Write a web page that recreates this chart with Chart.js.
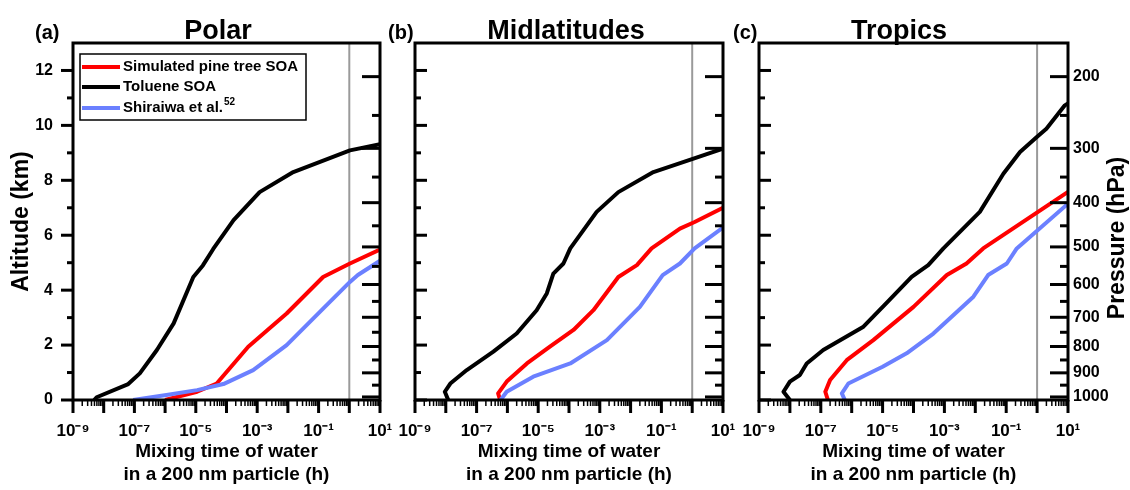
<!DOCTYPE html>
<html>
<head>
<meta charset="utf-8">
<script src="https://cdn.jsdelivr.net/npm/chart.js@4.4.0/dist/chart.umd.min.js"></script>
<style>
  body { margin: 0; background: #fff; }
  #wrap { position: relative; width: 1130px; height: 490px; overflow: hidden; }
  #wrap canvas { position: absolute; top: 0; }
</style>
</head>
<body>
<div id="wrap">
  <canvas id="polar" width="420" height="490" style="left:0px"></canvas>
  <canvas id="mid" width="388" height="490" style="left:375px"></canvas>
  <canvas id="trop" width="411" height="490" style="left:719px"></canvas>
</div>
<script>
// [mixing time (h), altitude (km)]
const polarPine = [[1.0e-6, 0], [1.1e-5, 0.3], [4.8e-5, 0.6], [5.1e-4, 1.94], [9.1e-3, 3.15], [0.14, 4.48], [1.05, 4.97], [10, 5.48]];
const polarToluene = [[4.9e-9, 0], [5.9e-9, 0.1], [6.3e-8, 0.58], [1.5e-7, 0.97], [5.4e-7, 1.82], [1.9e-6, 2.79], [8.3e-6, 4.48], [1.7e-5, 4.9], [3.7e-5, 5.5], [1.7e-4, 6.55], [1.2e-3, 7.57], [1.5e-2, 8.3], [1.05, 9.09], [10, 9.31]];
const polarShiraiwa = [[9.1e-8, 0], [1.1e-6, 0.18], [1.1e-5, 0.36], [7.9e-5, 0.58], [7.4e-4, 1.09], [9.1e-3, 2.0], [0.11, 3.21], [1.05, 4.3], [1.9, 4.55], [10, 5.07]];

const midPine = [[5.8e-7, 0], [5.0e-7, 0.24], [9.5e-7, 0.67], [4.3e-6, 1.33], [2.4e-5, 1.94], [1.4e-4, 2.55], [6.2e-4, 3.27], [4.0e-3, 4.48], [1.6e-2, 4.91], [4.8e-2, 5.52], [0.4, 6.24], [1.2, 6.48], [10, 7.0]];
const midToluene = [[1.2e-8, 0], [9.3e-9, 0.3], [1.4e-8, 0.6], [4.8e-8, 1.09], [3.5e-7, 1.76], [2.0e-6, 2.42], [8.9e-6, 3.27], [1.9e-5, 3.88], [3.1e-5, 4.6], [6.6e-5, 4.97], [1.1e-4, 5.52], [7.9e-4, 6.85], [4.0e-3, 7.57], [5.5e-2, 8.3], [1.1, 8.79], [10, 9.15]];
const midShiraiwa = [[6.0e-7, 0], [9.5e-7, 0.3], [6.9e-6, 0.85], [1.1e-4, 1.33], [1.7e-3, 2.18], [2.0e-2, 3.39], [0.11, 4.55], [0.4, 4.97], [1.2, 5.52], [10, 6.28]];

const tropPine = [[1.7e-7, 0], [1.4e-7, 0.3], [2.0e-7, 0.73], [6.9e-7, 1.45], [5.0e-6, 2.18], [1.0e-4, 3.39], [1.2e-3, 4.55], [5.2e-3, 4.97], [1.8e-2, 5.52], [10, 7.58]];
const tropToluene = [[1.0e-8, 0], [6.2e-9, 0.3], [1.0e-8, 0.67], [2.1e-8, 0.91], [3.5e-8, 1.33], [1.2e-7, 1.82], [2.4e-6, 2.67], [1.3e-5, 3.52], [8.7e-5, 4.48], [3.0e-4, 4.91], [9.3e-4, 5.52], [1.4e-2, 6.85], [8.1e-2, 8.24], [0.28, 9.03], [0.98, 9.58], [2.0, 9.88], [7.9, 10.73], [10, 10.8]];
const tropShiraiwa = [[6.0e-7, 0], [4.8e-7, 0.24], [7.8e-7, 0.6], [1.0e-5, 1.21], [6.0e-5, 1.7], [4.4e-4, 2.42], [8.7e-3, 3.76], [2.6e-2, 4.55], [0.105, 4.97], [0.22, 5.52], [10, 7.15]];

// 1 h marker
const oneHour = [[1, 0], [1, 13]];

const seriesNames = ['Simulated pine tree SOA', 'Toluene SOA', 'Shiraiwa et al.'];
const seriesRefs = ['', '', '52'];
const seriesColors = ['#ff0000', '#000000', '#6b80ff'];

const timeTicks = [1e-9, 1e-7, 1e-5, 1e-3, 1e-1, 1e1];
const timeLabels = ['10\u207B\u2079', '10\u207B\u2077', '10\u207B\u2075', '10\u207B\u00B3', '10\u207B\u00B9', '10\u00B9'];
const altTicks = [0, 2, 4, 6, 8, 10, 12];
const pressureTicks = [200, 300, 400, 500, 600, 700, 800, 900, 1000];

const xTitle = ['Mixing time of water', 'in a 200 nm particle (h)'];
const yTitle = 'Altitude (km)';
const y2Title = 'Pressure (hPa)';

const FONT = 'Liberation Sans, Arial, sans-serif';

// standard atmosphere: hPa -> km
function altitudeOf(hpa) {
  return 44.3308 * (1 - Math.pow(hpa / 1013.25, 0.190263));
}

const axesFrame = {
  id: 'axesFrame',
  afterDatasetsDraw(chart, args, o) {
    const { ctx, chartArea: a } = chart;
    const { x, y, y2 } = chart.scales;
    const seg = (x1, y1, x2, y3) => { ctx.beginPath(); ctx.moveTo(x1, y1); ctx.lineTo(x2, y3); ctx.stroke(); };
    ctx.save();
    ctx.strokeStyle = '#000';
    ctx.fillStyle = '#000';

    // log ticks below the axis
    for (let e = -9; e <= 1; e++) {
      for (let m = 1; m <= 9; m++) {
        const v = m * Math.pow(10, e);
        if (v > 10.0001) break;
        const px = x.getPixelForValue(v);
        ctx.lineWidth = m === 1 ? 3 : 1.5;
        seg(px, a.bottom, px, a.bottom + (m === 1 ? 13 : 6));
      }
    }

    // altitude ticks
    const dir = o.outerLeft ? -1 : 1;
    ctx.lineWidth = 3;
    for (let km = 0; km <= 12; km++) {
      const py = y.getPixelForValue(km);
      seg(a.left, py, a.left + dir * (km % 2 ? 6 : 12), py);
    }

    // pressure ticks, pointing inward from the right edge
    for (let hpa = 200; hpa <= 1000; hpa += 50) {
      const py = y2.getPixelForValue(altitudeOf(hpa));
      seg(a.right, py, a.right - (hpa % 100 ? 8 : 18), py);
    }

    ctx.lineWidth = 3;
    ctx.strokeRect(a.left, a.top, a.right - a.left, a.bottom - a.top);

    ctx.textBaseline = 'alphabetic';
    ctx.font = 'bold 27px ' + FONT;
    ctx.textAlign = 'center';
    ctx.fillText(o.title, o.titleX, 39);
    ctx.font = 'bold 20px ' + FONT;
    ctx.textAlign = 'left';
    ctx.fillText(o.letter, o.letterX, 39);

    if (o.legend) {
      ctx.lineWidth = 1.5;
      ctx.strokeRect(80, 54, 226, 66);
      const rows = [67, 87, 108];
      seriesNames.forEach((name, i) => {
        ctx.strokeStyle = seriesColors[i];
        ctx.lineWidth = 4;
        seg(82, rows[i], 120, rows[i]);
        ctx.font = 'bold 15px ' + FONT;
        ctx.textBaseline = 'middle';
        ctx.fillText(name, 123, rows[i]);
        if (seriesRefs[i]) {
          const w = ctx.measureText(name).width;
          ctx.font = 'bold 10px ' + FONT;
          ctx.fillText(seriesRefs[i], 123 + w + 1, rows[i] - 6);
        }
      });
    }

    if (o.rightTitle) {
      ctx.translate(o.rightTitleX, 238);
      ctx.rotate(-Math.PI / 2);
      ctx.font = 'bold 23px ' + FONT;
      ctx.textAlign = 'center';
      ctx.textBaseline = 'middle';
      ctx.fillText(y2Title, 0, 0);
    }
    ctx.restore();
  }
};

function makePanel(id, series, p) {
  const datasets = series.map((s, i) => ({
    label: seriesNames[i],
    data: s.map(d => ({ x: d[0], y: d[1] })),
    borderColor: seriesColors[i],
    borderWidth: 4,
    pointRadius: 0,
    tension: 0,
    borderJoinStyle: 'round',
    order: [1, 2, 0][i]
  }));
  datasets.push({
    label: '',
    data: oneHour.map(d => ({ x: d[0], y: d[1] })),
    borderColor: '#9a9a9a',
    borderWidth: 2,
    pointRadius: 0,
    order: 5
  });

  return new Chart(document.getElementById(id), {
    type: 'line',
    data: { datasets },
    options: {
      responsive: false,
      animation: false,
      layout: { padding: { top: 43, left: 0, right: 0, bottom: 0 } },
      plugins: {
        legend: { display: false },
        tooltip: { enabled: false },
        axesFrame: p
      },
      scales: {
        x: {
          type: 'logarithmic',
          position: 'bottom',
          min: 1e-9,
          max: 10,
          grid: { display: false, drawTicks: false },
          border: { display: false },
          afterBuildTicks: s => { s.ticks = timeTicks.map(v => ({ value: v })); },
          afterFit: s => { s.height = 90; },
          ticks: {
            autoSkip: false,
            maxRotation: 0,
            padding: 21,
            color: '#000',
            font: { family: FONT, size: 17, weight: 'bold' },
            callback: (v, i) => timeLabels[i]
          },
          title: {
            display: true,
            text: xTitle,
            color: '#000',
            font: { family: FONT, size: 19, weight: 'bold', lineHeight: 1.2 },
            padding: { top: 0, bottom: 4 }
          }
        },
        y: {
          type: 'linear',
          position: 'left',
          min: 0,
          max: 13,
          grid: { display: false, drawTicks: false },
          border: { display: false },
          afterBuildTicks: s => { s.ticks = altTicks.map(v => ({ value: v })); },
          afterFit: s => { s.width = p.yw; },
          ticks: {
            display: p.leftLabels,
            padding: 20,
            color: '#000',
            font: { family: FONT, size: 16, weight: 'bold' }
          },
          title: {
            display: p.leftLabels,
            text: yTitle,
            color: '#000',
            font: { family: FONT, size: 23, weight: 'bold', lineHeight: 1.2 },
            padding: { top: 8, bottom: 0 }
          }
        },
        y2: {
          type: 'linear',
          position: 'right',
          min: 0,
          max: 13,
          grid: { display: false, drawTicks: false },
          border: { display: false },
          afterBuildTicks: s => { s.ticks = pressureTicks.map(h => ({ value: altitudeOf(h) })); },
          afterFit: s => { s.width = p.y2w; },
          ticks: {
            display: p.rightLabels,
            padding: 5,
            color: '#000',
            font: { family: FONT, size: 16, weight: 'bold' },
            callback: (v, i) => String(pressureTicks[i])
          }
        }
      }
    },
    plugins: [axesFrame]
  });
}

makePanel('polar', [polarPine, polarToluene, polarShiraiwa], {
  title: 'Polar', titleX: 218, letter: '(a)', letterX: 35,
  yw: 73, y2w: 40, outerLeft: true, leftLabels: true, rightLabels: false, legend: true
});
makePanel('mid', [midPine, midToluene, midShiraiwa], {
  title: 'Midlatitudes', titleX: 191, letter: '(b)', letterX: 13,
  yw: 40, y2w: 40, outerLeft: false, leftLabels: false, rightLabels: false, legend: false
});
makePanel('trop', [tropPine, tropToluene, tropShiraiwa], {
  title: 'Tropics', titleX: 180, letter: '(c)', letterX: 14,
  yw: 40, y2w: 62, outerLeft: false, leftLabels: false, rightLabels: true, legend: false,
  rightTitle: true, rightTitleX: 399
});
</script>
</body>
</html>
